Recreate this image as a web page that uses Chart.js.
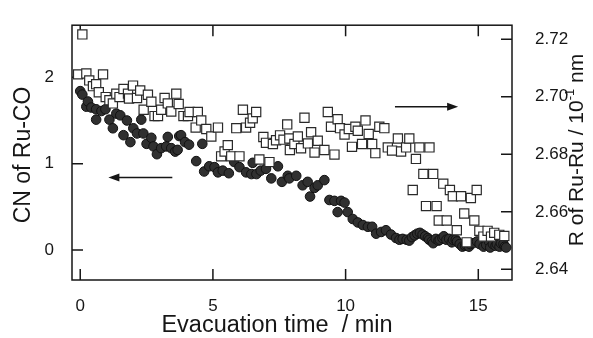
<!DOCTYPE html>
<html><head><meta charset="utf-8">
<script src="https://cdn.jsdelivr.net/npm/chart.js@4"></script>
<style>html,body{margin:0;padding:0;background:#fff}</style>
</head><body>
<canvas id="c" width="593" height="338"></canvas>
<script>
const cnTime = [0.00,0.08,0.23,0.29,0.42,0.60,0.60,0.80,0.95,1.10,1.23,1.36,1.51,1.63,1.76,1.89,2.00,2.14,2.30,2.38,2.50,2.68,2.76,2.89,3.05,3.24,3.30,3.43,3.58,3.67,3.73,3.80,3.95,4.10,4.37,4.60,4.67,4.86,5.06,5.19,5.37,5.60,5.80,6.00,6.25,6.45,6.50,6.64,6.80,7.00,7.20,7.45,7.60,7.82,7.88,8.14,8.38,8.57,8.66,8.83,8.95,9.20,9.39,9.58,9.70,9.83,9.96,10.08,10.27,10.46,10.65,10.84,11.00,11.15,11.34,11.52,11.71,11.90,12.03,12.15,12.30,12.40,12.50,12.60,12.70,12.80,12.90,13.00,13.10,13.15,13.25,13.30,13.40,13.50,13.55,13.65,13.70,13.80,13.90,14.00,14.05,14.15,14.20,14.30,14.40,14.50,14.55,14.65,14.70,14.80,14.95,15.05,15.20,15.30,15.40,15.45,15.55,15.65,15.70,15.80,15.85,15.95,16.00,16.05];
const cnValue = [1.84,1.80,1.66,1.72,1.65,1.63,1.51,1.61,1.63,1.51,1.41,1.58,1.56,1.33,1.50,1.25,1.41,1.35,1.51,1.35,1.23,1.30,1.20,1.11,1.18,1.20,1.31,1.18,1.14,1.16,1.32,1.33,1.25,1.22,1.03,1.23,0.91,0.97,0.96,0.90,0.92,0.89,1.02,0.96,0.90,0.88,1.01,0.88,0.92,0.94,0.83,0.97,0.79,0.86,0.83,0.86,0.75,0.79,0.62,0.72,0.75,0.81,0.58,0.57,0.44,0.57,0.55,0.44,0.36,0.32,0.29,0.27,0.27,0.19,0.21,0.23,0.18,0.14,0.12,0.13,0.12,0.11,0.15,0.17,0.19,0.20,0.18,0.16,0.14,0.12,0.10,0.08,0.13,0.11,0.12,0.14,0.16,0.12,0.13,0.09,0.12,0.12,0.10,0.07,0.04,0.05,0.06,0.04,0.07,0.08,0.10,0.07,0.04,0.06,0.10,0.03,0.07,0.05,0.07,0.04,0.08,0.07,0.04,0.03];
const rTime = [-0.08,0.08,0.23,0.34,0.48,0.60,0.70,0.86,0.96,1.10,1.23,1.36,1.48,1.63,1.80,1.84,1.99,2.14,2.26,2.39,2.55,2.68,2.80,2.93,3.05,3.18,3.30,3.43,3.62,3.71,3.89,4.06,4.12,4.35,4.43,4.56,4.75,4.94,5.19,5.31,5.44,5.56,5.69,5.88,6.00,6.13,6.25,6.40,6.50,6.63,6.75,6.90,7.00,7.13,7.26,7.38,7.53,7.66,7.80,7.88,7.90,8.07,8.20,8.32,8.45,8.58,8.70,8.83,8.95,9.20,9.33,9.45,9.58,9.70,9.79,9.96,10.12,10.24,10.37,10.46,10.62,10.75,10.87,11.00,11.12,11.27,11.46,11.59,11.75,11.97,12.09,12.28,12.40,12.53,12.65,12.78,12.93,13.03,13.16,13.30,13.43,13.51,13.68,13.81,13.93,14.04,14.19,14.35,14.47,14.56,14.72,14.85,14.94,15.04,15.19,15.35,15.48,15.60,15.79,15.98];
const rValue = [2.7078,2.7217,2.7081,2.7057,2.7037,2.7044,2.7016,2.7078,2.6999,2.6988,2.6977,2.7011,2.6999,2.7027,2.7011,2.6994,2.7039,2.6996,2.7022,2.6955,2.7007,2.6983,2.6933,2.6933,2.6955,2.6996,2.6977,2.6949,2.7011,2.6975,2.6933,2.6933,2.6947,2.6893,2.6947,2.6918,2.6888,2.6862,2.6893,2.6793,2.6810,2.6832,2.6793,2.6891,2.6793,2.6955,2.6893,2.6910,2.6925,2.6947,2.6782,2.6860,2.6840,2.6773,2.6836,2.6849,2.6866,2.6851,2.6904,2.6855,2.6815,2.6836,2.6862,2.6821,2.6927,2.6838,2.6877,2.6806,2.6847,2.6815,2.6947,2.6896,2.6799,2.6922,2.6891,2.6869,2.6888,2.6826,2.6896,2.6882,2.6836,2.6918,2.6871,2.6836,2.6804,2.6896,2.6891,2.6824,2.6813,2.6855,2.6810,2.6824,2.6855,2.6676,2.6784,2.6824,2.6732,2.6620,2.6824,2.6732,2.6620,2.6570,2.6698,2.6570,2.6676,2.6654,2.6536,2.6654,2.6594,2.6494,2.6648,2.6570,2.6676,2.6534,2.6514,2.6534,2.6514,2.6527,2.6520,2.6516];
const xTicks = [0,5,10,15];
const cnTicks = [0,1,2];
const rTicks = [2.64,2.66,2.68,2.70,2.72];
const xTitle = 'Evacuation time  / min';
const cnTitle = 'CN of Ru-CO';
const rTitleMain = 'R of Ru-Ru / 10';
const rTitleSup = '-1';
const rTitleEnd = ' nm';
// arrows: [fromX, toX, y] in data units
const cnArrow = [3.47, 1.06, 0.84];
const rArrow = [11.86, 14.24, 2.6965];

const FONT = '"Liberation Sans", Arial, sans-serif';
const INK = '#161616';

const framePlugin = {
  id: 'frame',
  beforeDatasetsDraw(chart) {
    const {ctx, chartArea: a, scales} = chart;
    ctx.save();
    ctx.strokeStyle = INK; ctx.lineWidth = 1.5;
    ctx.strokeRect(a.left, a.top, a.right - a.left, a.bottom - a.top);
    const tl = 11;
    ctx.beginPath();
    xTicks.forEach(v => {
      const px = scales.x.getPixelForValue(v);
      ctx.moveTo(px, a.bottom); ctx.lineTo(px, a.bottom - tl);
      ctx.moveTo(px, a.top); ctx.lineTo(px, a.top + tl);
    });
    cnTicks.forEach(v => {
      const py = scales.y.getPixelForValue(v);
      ctx.moveTo(a.left, py); ctx.lineTo(a.left + tl, py);
    });
    rTicks.forEach(v => {
      const py = scales.y2.getPixelForValue(v);
      ctx.moveTo(a.right, py); ctx.lineTo(a.right - tl, py);
    });
    ctx.stroke();
    ctx.restore();
  },
  afterDraw(chart) {
    const {ctx, scales} = chart;
    ctx.save();
    ctx.fillStyle = INK; ctx.strokeStyle = INK;
    const arrow = (x0, x1, py) => {
      const p0 = scales.x.getPixelForValue(x0), p1 = scales.x.getPixelForValue(x1);
      const dir = Math.sign(p1 - p0);
      ctx.lineWidth = 1.5;
      ctx.beginPath(); ctx.moveTo(p0, py); ctx.lineTo(p1 - dir * 8, py); ctx.stroke();
      ctx.beginPath(); ctx.moveTo(p1, py); ctx.lineTo(p1 - dir * 11, py - 4); ctx.lineTo(p1 - dir * 11, py + 4); ctx.closePath(); ctx.fill();
    };
    arrow(cnArrow[0], cnArrow[1], scales.y.getPixelForValue(cnArrow[2]));
    arrow(rArrow[0], rArrow[1], scales.y2.getPixelForValue(rArrow[2]));
    ctx.textAlign = 'center'; ctx.textBaseline = 'middle';
    ctx.font = '23.5px ' + FONT;
    ctx.fillText(xTitle, 277, 326);
    ctx.save();
    ctx.translate(24, 155); ctx.rotate(-Math.PI / 2);
    ctx.font = '23px ' + FONT;
    ctx.fillText(cnTitle, 0, 0);
    ctx.restore();
    ctx.save();
    ctx.translate(577, 150); ctx.rotate(-Math.PI / 2);
    ctx.font = '21px ' + FONT;
    const w1 = ctx.measureText(rTitleMain).width;
    const w3 = ctx.measureText(rTitleEnd).width;
    ctx.font = '13px ' + FONT;
    const w2 = ctx.measureText(rTitleSup).width;
    const total = w1 + w2 + w3;
    ctx.textAlign = 'left';
    let x = -total / 2;
    ctx.font = '21px ' + FONT;
    ctx.fillText(rTitleMain, x, 0); x += w1;
    ctx.font = '13px ' + FONT;
    ctx.fillText(rTitleSup, x, -7); x += w2;
    ctx.font = '21px ' + FONT;
    ctx.fillText(rTitleEnd, x, 0);
    ctx.restore();
    ctx.restore();
  }
};

new Chart(document.getElementById('c'), {
  type: 'scatter',
  data: {
    datasets: [
      {
        label: 'R of Ru-Ru',
        data: rTime.map((t, i) => ({x: t, y: rValue[i]})),
        yAxisID: 'y2',
        pointStyle: 'rect',
        pointRadius: 6.5,
        pointBackgroundColor: '#ffffff',
        pointBorderColor: '#2a2a2a',
        pointBorderWidth: 1.2,
        order: 0
      },
      {
        label: 'CN of Ru-CO',
        data: cnTime.map((t, i) => ({x: t, y: cnValue[i]})),
        yAxisID: 'y',
        pointStyle: 'circle',
        pointRadius: 4.8,
        pointBackgroundColor: '#303030',
        pointBorderColor: '#111111',
        pointBorderWidth: 1,
        order: 1
      }
    ]
  },
  options: {
    responsive: false,
    animation: false,
    devicePixelRatio: 1,
    layout: {padding: {top: 16, left: 0, right: 0, bottom: 0}},
    plugins: {legend: {display: false}, tooltip: {enabled: false}},
    scales: {
      x: {
        type: 'linear', position: 'bottom', min: -0.31, max: 16.27,
        afterBuildTicks: s => { s.ticks = xTicks.map(v => ({value: v})); },
        afterFit: s => { s.height = 58; },
        grid: {display: false}, border: {display: false},
        ticks: {font: {family: FONT, size: 17}, color: INK, padding: 8, maxRotation: 0}
      },
      y: {
        type: 'linear', position: 'left', min: -0.346, max: 2.603,
        afterBuildTicks: s => { s.ticks = cnTicks.map(v => ({value: v})); },
        afterFit: s => { s.width = 72; },
        grid: {display: false}, border: {display: false},
        ticks: {font: {family: FONT, size: 17}, color: INK, padding: 10}
      },
      y2: {
        type: 'linear', position: 'right', min: 2.6363, max: 2.7249,
        afterBuildTicks: s => { s.ticks = rTicks.map(v => ({value: v})); },
        afterFit: s => { s.width = 81; },
        grid: {display: false}, border: {display: false},
        ticks: {font: {family: FONT, size: 17}, color: INK, padding: 15,
          callback: v => Number(v).toFixed(2)}
      }
    }
  },
  plugins: [framePlugin]
});
</script>
</body></html>
